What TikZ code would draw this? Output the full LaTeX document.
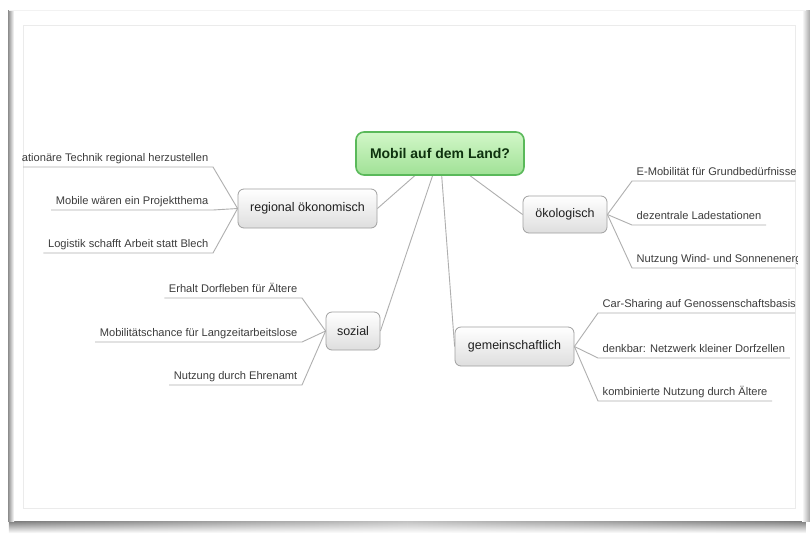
\documentclass[tikz,border=0pt]{standalone}
\usepackage{fontspec}
\setmainfont{Liberation Sans}
\usetikzlibrary{fadings}
\pgfdeclarelayer{frame}
\pgfdeclarelayer{lines}
\pgfsetlayers{frame,lines,main}
\definecolor{conn}{RGB}{175,175,175}
\definecolor{leaftext}{RGB}{60,60,60}
\definecolor{boxborder}{RGB}{160,160,160}
\definecolor{greenborder}{RGB}{90,185,90}
\definecolor{greentop}{RGB}{210,247,200}
\definecolor{greenbot}{RGB}{160,225,150}
\definecolor{darkgreentext}{RGB}{15,50,15}
\tikzset{
 branch/.style={draw=boxborder, line width=0.8pt, rounded corners=6pt, top color=white, bottom color=black!13, font=\fontsize{12.5}{14}\selectfont, text=black!88, inner sep=0pt},
 root/.style={draw=greenborder, line width=1.6pt, rounded corners=8pt, top color=greentop, bottom color=greenbot, font=\fontsize{14}{16}\selectfont\bfseries, text=darkgreentext, minimum width=168pt, minimum height=43pt, inner sep=0pt},
 leaf/.style={font=\fontsize{11.1}{13}\selectfont, text=leaftext, inner xsep=4.5pt, inner ysep=5.5pt, text depth=0pt},
 link/.style={draw=conn, line width=0.9pt},
}
\begin{document}
\begin{tikzpicture}[x=1pt,y=-1pt]
\useasboundingbox (0,0) rectangle (810,533);
\begin{pgfonlayer}{frame}
 \fill[white] (0,0) rectangle (810,533);
 \shade[left color=black!60, right color=black!60, middle color=black!28, path fading=south] (9,519) rectangle (806,533);
 \fill[white] (9,10) rectangle (806,521);
 \shade[left color=black!45, right color=white] (8,10) rectangle (14,521);
 \shade[left color=white, right color=black!35] (802,10) rectangle (810,521);
 \draw[black!5] (9,10.5) -- (806,10.5);
 \draw[black!8, line width=0.8pt] (23,25) rectangle (795,508);
\end{pgfonlayer}

\node[root] (root) at (440,153.5) {Mobil auf dem Land?};
\node[branch, minimum width=139pt, minimum height=39pt] (reg) at (307.5,208.5) {regional ökonomisch};
\node[branch, minimum width=84pt, minimum height=37pt] (oek) at (565,214.5) {ökologisch};
\node[branch, minimum width=54pt, minimum height=38pt] (soz) at (353,331) {sozial};
\node[branch, minimum width=119pt, minimum height=39pt] (gem) at (514.5,346.5) {gemeinschaftlich};

\begin{scope}
 \clip (21,25) rectangle (797,508);
 \node[leaf, anchor=south east] (r1) at (213,167) {ationäre Technik regional herzustellen};
 \node[leaf, anchor=south east] (r2) at (213,210) {Mobile wären ein Projektthema};
 \node[leaf, anchor=south east] (r3) at (213,253) {Logistik schafft Arbeit statt Blech};
 \node[leaf, anchor=south east] (s1) at (302,298) {Erhalt Dorfleben für Ältere};
 \node[leaf, anchor=south east] (s2) at (302,342) {Mobilitätschance für Langzeitarbeitslose};
 \node[leaf, anchor=south east] (s3) at (302,385) {Nutzung durch Ehrenamt};
 \node[leaf, anchor=south west] (o1) at (632,181) {E-Mobilität für Grundbedürfnisse};
 \node[leaf, anchor=south west] (o2) at (632,225) {dezentrale Ladestationen};
 \node[leaf, anchor=south west] (o3) at (632,268) {Nutzung Wind- und Sonnenenerg};
 \node[leaf, anchor=south west] (g1) at (598,313) {Car-Sharing auf Genossenschaftsbasis};
 \node[leaf, anchor=south west] (g2) at (598,358) {denkbar: Netzwerk kleiner Dorfzellen};
 \node[leaf, anchor=south west] (g3) at (598,401) {kombinierte Nutzung durch Ältere};
\end{scope}

\begin{pgfonlayer}{lines}
 \begin{scope}
 \clip (23,25) rectangle (795,508);
 \draw[link] (root.center) -- (reg.east);
 \draw[link] (root.center) -- (soz.east);
 \draw[link] (root.center) -- (gem.west);
 \draw[link] (root.center) -- (oek.west);
 \foreach \n in {r1,r2,r3}
   \draw[link] (reg.west) -- (\n.south east) -- (\n.south west);
 \foreach \n in {s1,s2,s3}
   \draw[link] (soz.west) -- (\n.south east) -- (\n.south west);
 \foreach \n in {o1,o2,o3}
   \draw[link] (oek.east) -- (\n.south west) -- (\n.south east);
 \foreach \n in {g1,g2,g3}
   \draw[link] (gem.east) -- (\n.south west) -- (\n.south east);
 \end{scope}
\end{pgfonlayer}
\end{tikzpicture}
\end{document}
